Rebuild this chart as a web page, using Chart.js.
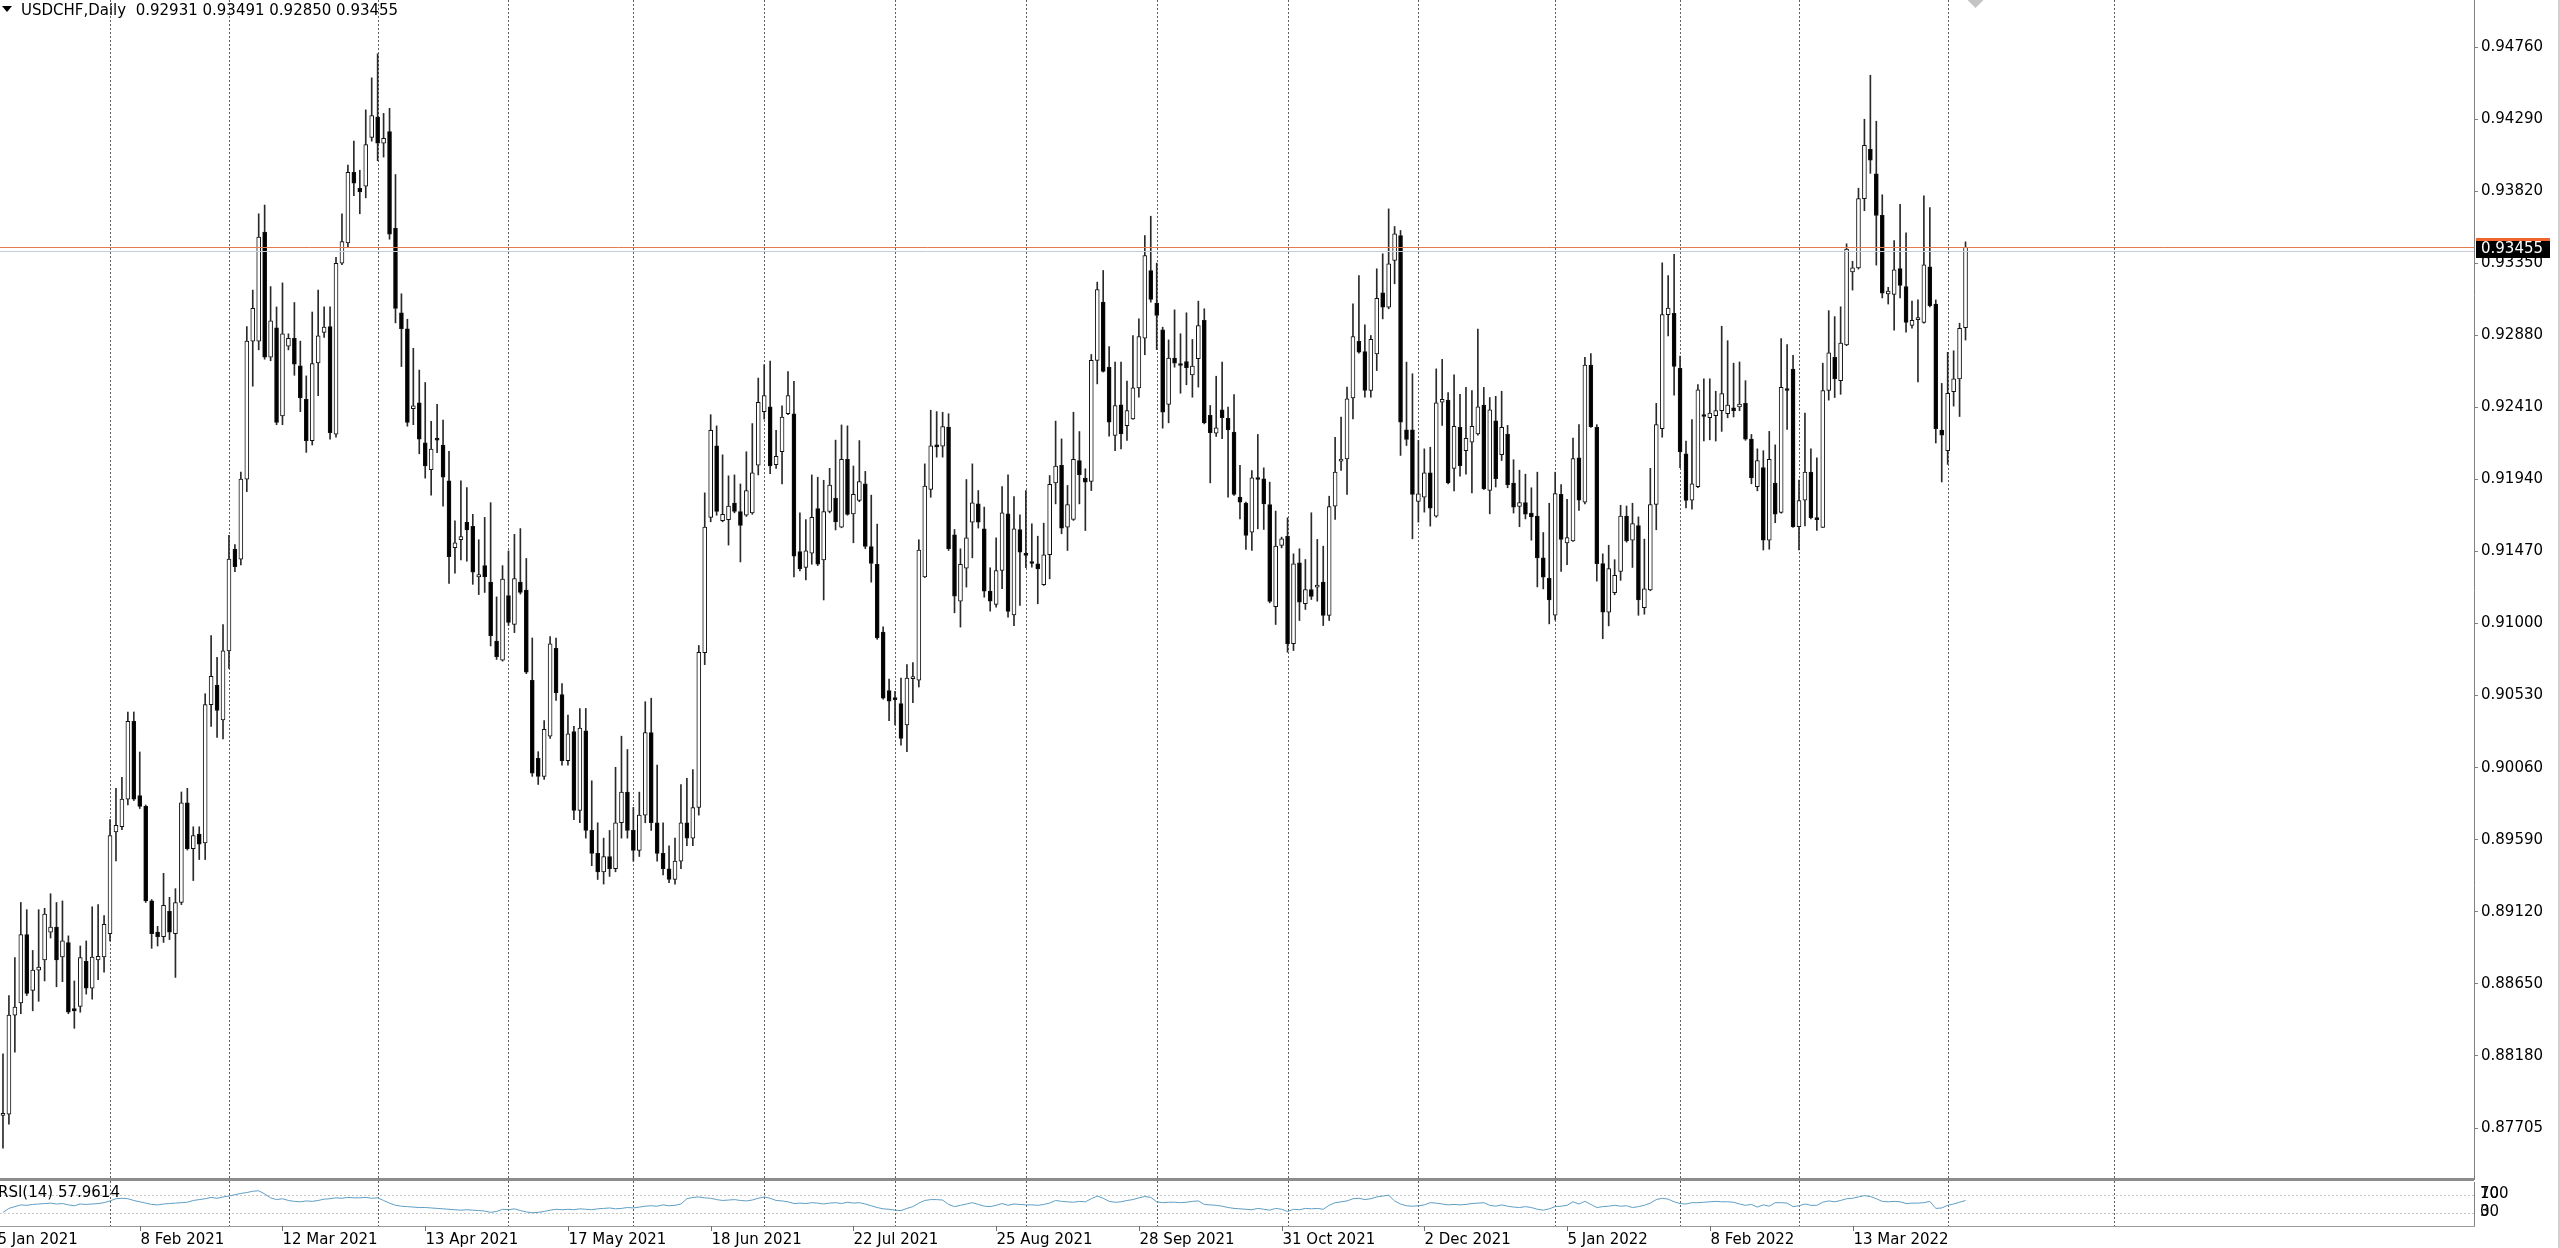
<!DOCTYPE html>
<html>
<head>
<meta charset="utf-8">
<title>USDCHF,Daily</title>
<script src="https://cdn.jsdelivr.net/npm/chart.js@4.4.1/dist/chart.umd.min.js"></script>
<style>
  html, body { margin: 0; padding: 0; background: #fff; overflow: hidden; }
  #wrap { position: relative; width: 2560px; height: 1248px; background: #fff; }
  #main { position: absolute; left: 0; top: 0; }
  #rsi { position: absolute; left: 0; top: 1178px; }
</style>
</head>
<body>
<div id="wrap">
  <canvas id="main" width="2560" height="1180"></canvas>
  <canvas id="rsi" width="2560" height="70"></canvas>
</div>
<script>
// daily USDCHF candles (last bar taken from the header line)
const openP = [
  0.87790,0.87799,0.88445,0.88525,0.88971,0.88606,0.88739,0.88805,0.88986,0.89019,
  0.88824,0.88919,0.88487,0.88502,0.88796,0.88620,0.88805,0.88824,0.88976,0.89640,
  0.89674,0.89854,0.90362,0.89878,0.89807,0.89190,0.88986,0.88957,0.89123,0.88976,
  0.89180,0.89830,0.89531,0.89626,0.89569,0.90471,0.90599,0.90371,0.90822,0.91486,
  0.91420,0.91942,0.92843,0.92843,0.93555,0.92739,0.92929,0.92355,0.92810,0.92862,
  0.92682,0.92464,0.92193,0.92701,0.92900,0.92938,0.92236,0.93351,0.93484,0.93944,
  0.93840,0.93854,0.94172,0.94305,0.94134,0.94210,0.93579,0.93028,0.92924,0.92402,
  0.92440,0.92179,0.92005,0.92200,0.92165,0.91932,0.91495,0.91547,0.91661,0.91635,
  0.91305,0.91378,0.91270,0.90886,0.90761,0.91183,0.90994,0.91270,0.91218,0.90630,
  0.90120,0.90003,0.90265,0.90839,0.90536,0.90105,0.90295,0.89780,0.90300,0.89650,
  0.89500,0.89380,0.89480,0.89400,0.89700,0.89900,0.89650,0.89520,0.89750,0.90289,
  0.89700,0.89500,0.89400,0.89330,0.89450,0.89700,0.89600,0.89800,0.90810,0.91693,
  0.92159,0.91672,0.91678,0.91786,0.91731,0.91707,0.91722,0.92034,0.92383,0.92415,
  0.92037,0.92121,0.92369,0.92369,0.91469,0.91367,0.91460,0.91751,0.91416,0.91731,
  0.91818,0.91629,0.92072,0.91716,0.91803,0.91911,0.91503,0.91387,0.90944,0.90563,
  0.90513,0.90478,0.90338,0.90641,0.90630,0.91305,0.91876,0.92165,0.92158,0.92282,
  0.91579,0.91146,0.91362,0.91662,0.91781,0.91618,0.91212,0.91125,0.91346,0.91716,
  0.91057,0.91614,0.91459,0.91396,0.91390,0.91253,0.91449,0.91918,0.92032,0.91629,
  0.91679,0.92064,0.91949,0.91927,0.92717,0.93097,0.92673,0.92227,0.92427,0.92292,
  0.92336,0.92538,0.92862,0.93304,0.93091,0.92917,0.92430,0.92732,0.92691,0.92710,
  0.92623,0.92728,0.92978,0.92358,0.92243,0.92395,0.92340,0.92249,0.91825,0.91786,
  0.91596,0.91944,0.91944,0.91777,0.91111,0.91510,0.91570,0.90868,0.91396,0.91129,
  0.91222,0.91238,0.91270,0.91053,0.91766,0.92060,0.92075,0.92473,0.92841,0.92775,
  0.92521,0.92760,0.93158,0.93065,0.93369,0.93532,0.92264,0.92264,0.91797,0.91825,
  0.91984,0.91701,0.92445,0.92458,0.92013,0.92280,0.92128,0.92183,0.92237,0.92425,
  0.91869,0.92323,0.92102,0.92234,0.91917,0.91764,0.91790,0.91721,0.91701,0.91429,
  0.91295,0.91054,0.91843,0.91526,0.91539,0.92082,0.91792,0.92686,0.92280,0.91391,
  0.91074,0.91201,0.91340,0.91701,0.91544,0.91640,0.91104,0.91219,0.91777,0.92272,
  0.93016,0.93024,0.92666,0.92107,0.91805,0.91894,0.92356,0.92343,0.92356,0.92389,
  0.92369,0.92407,0.92414,0.92437,0.92204,0.91894,0.92018,0.91544,0.91917,0.91726,
  0.92531,0.92661,0.91632,0.91805,0.91988,0.91683,0.91627,0.92521,0.92737,0.92585,
  0.92818,0.93295,0.93321,0.93773,0.94095,0.93935,0.93664,0.93151,0.93148,0.93316,
  0.93199,0.92945,0.92983,0.92965,0.93328,0.93085,0.92262,0.92128,0.92514,0.92597,
  0.92931
];
const highP = [
  0.88193,0.88573,0.88820,0.89180,0.89133,0.88867,0.89133,0.89142,0.89237,0.89180,
  0.89190,0.88962,0.88668,0.88896,0.88929,0.89152,0.89166,0.89095,0.89721,0.89925,
  0.89996,0.90423,0.90423,0.90162,0.89816,0.89199,0.89024,0.89370,0.89214,0.89270,
  0.89901,0.89925,0.89674,0.89674,0.90542,0.90922,0.90779,0.90993,0.91576,0.91515,
  0.91989,0.92938,0.93176,0.93674,0.93731,0.93199,0.93066,0.93223,0.92891,0.93095,
  0.92843,0.92616,0.93033,0.93176,0.93066,0.93066,0.93389,0.93674,0.93992,0.94148,
  0.93958,0.94352,0.94561,0.94718,0.94329,0.94362,0.93930,0.93152,0.92986,0.92796,
  0.92654,0.92573,0.92319,0.92430,0.92328,0.92124,0.91670,0.91932,0.91888,0.91713,
  0.91547,0.91693,0.91789,0.91174,0.91378,0.91474,0.91582,0.91620,0.91425,0.90906,
  0.90164,0.90367,0.90915,0.90906,0.90609,0.90402,0.90330,0.90446,0.90446,0.89974,
  0.89700,0.89600,0.89650,0.90062,0.90265,0.90178,0.89800,0.89900,0.90490,0.90513,
  0.90076,0.89700,0.89550,0.89600,0.89950,0.89990,0.90047,0.90857,0.91853,0.92363,
  0.92290,0.92101,0.91964,0.91970,0.91911,0.92121,0.92305,0.92602,0.92689,0.92712,
  0.92261,0.92421,0.92645,0.92581,0.91722,0.91678,0.91970,0.91955,0.91935,0.92013,
  0.92197,0.92296,0.92290,0.92028,0.92194,0.91993,0.91838,0.91649,0.90979,0.90638,
  0.90557,0.90644,0.90732,0.90746,0.91547,0.92042,0.92392,0.92383,0.92379,0.92369,
  0.91614,0.91488,0.91940,0.92042,0.91868,0.91760,0.91364,0.91560,0.91894,0.91971,
  0.91829,0.91710,0.91868,0.91651,0.91570,0.91655,0.91966,0.92321,0.92205,0.91901,
  0.92379,0.92253,0.92010,0.92756,0.93228,0.93304,0.92808,0.92706,0.92706,0.92582,
  0.92880,0.92988,0.93532,0.93658,0.93352,0.92934,0.92851,0.93047,0.92891,0.93028,
  0.92854,0.93104,0.93054,0.92423,0.92614,0.92706,0.92412,0.92495,0.92032,0.91792,
  0.91999,0.92234,0.92016,0.91923,0.91734,0.91564,0.91690,0.91455,0.91488,0.91418,
  0.91723,0.91549,0.91505,0.91831,0.92216,0.92347,0.92543,0.93086,0.93271,0.92949,
  0.92880,0.93315,0.93413,0.93706,0.93591,0.93565,0.92706,0.92630,0.92195,0.92140,
  0.92151,0.92662,0.92724,0.92508,0.92623,0.92496,0.92541,0.92521,0.92922,0.92541,
  0.92475,0.92483,0.92516,0.92293,0.92069,0.92001,0.91975,0.91886,0.91988,0.91594,
  0.91785,0.91988,0.91907,0.91810,0.92211,0.92298,0.92737,0.92762,0.92298,0.91455,
  0.91511,0.91417,0.91772,0.91767,0.91785,0.91696,0.91551,0.92013,0.92437,0.93354,
  0.93270,0.93410,0.92745,0.92191,0.92331,0.92559,0.92597,0.92597,0.92516,0.92940,
  0.92846,0.92699,0.92707,0.92585,0.92234,0.92140,0.92128,0.92254,0.92166,0.92859,
  0.92821,0.92750,0.91937,0.92374,0.92140,0.92082,0.92699,0.93042,0.93003,0.93067,
  0.93478,0.93364,0.93841,0.94291,0.94578,0.94278,0.93798,0.93194,0.93499,0.93735,
  0.93549,0.93105,0.93112,0.93791,0.93714,0.93112,0.92567,0.92770,0.92780,0.92960,
  0.93491
];
const lowP = [
  0.87576,0.87733,0.88203,0.88454,0.88573,0.88473,0.88535,0.88668,0.88948,0.88630,
  0.88663,0.88454,0.88359,0.88464,0.88582,0.88549,0.88677,0.88725,0.88929,0.89451,
  0.89655,0.89816,0.89845,0.89793,0.89180,0.88881,0.88896,0.88919,0.88938,0.88691,
  0.89166,0.89522,0.89323,0.89460,0.89460,0.90329,0.90257,0.90248,0.90708,0.91339,
  0.91382,0.91861,0.92549,0.92786,0.92725,0.92715,0.92298,0.92298,0.92786,0.92620,
  0.92383,0.92117,0.92165,0.92487,0.92867,0.92203,0.92217,0.93342,0.93460,0.93792,
  0.93674,0.93778,0.94148,0.94020,0.94044,0.93508,0.92962,0.92677,0.92288,0.92298,
  0.92108,0.91949,0.91838,0.92115,0.91766,0.91262,0.91329,0.91416,0.91407,0.91256,
  0.91189,0.91203,0.90854,0.90766,0.90755,0.90988,0.90941,0.91192,0.90673,0.90003,
  0.89950,0.89983,0.90251,0.90499,0.90076,0.90076,0.89720,0.89700,0.89600,0.89420,
  0.89330,0.89300,0.89350,0.89380,0.89600,0.89600,0.89450,0.89480,0.89700,0.89650,
  0.89450,0.89360,0.89310,0.89300,0.89400,0.89550,0.89550,0.89750,0.90732,0.91664,
  0.91707,0.91664,0.91512,0.91722,0.91402,0.91699,0.91713,0.91970,0.92334,0.91978,
  0.92013,0.91911,0.92363,0.91305,0.91343,0.91285,0.91387,0.91378,0.91154,0.91722,
  0.91611,0.91625,0.91707,0.91527,0.91795,0.91489,0.91270,0.90897,0.90507,0.90367,
  0.90338,0.90207,0.90164,0.90484,0.90586,0.91300,0.91824,0.92086,0.92086,0.91477,
  0.91070,0.90977,0.91238,0.91429,0.91623,0.91172,0.91081,0.91107,0.91227,0.91042,
  0.90987,0.91118,0.91364,0.91368,0.91129,0.91249,0.91292,0.91781,0.91586,0.91477,
  0.91673,0.91781,0.91607,0.91868,0.92564,0.92641,0.92223,0.92129,0.92140,0.92195,
  0.92332,0.92477,0.92754,0.93097,0.92788,0.92275,0.92310,0.92673,0.92503,0.92558,
  0.92477,0.92543,0.92303,0.91918,0.92221,0.92206,0.91825,0.91836,0.91683,0.91483,
  0.91477,0.91618,0.91614,0.91135,0.90994,0.91494,0.90813,0.90824,0.91020,0.91092,
  0.91157,0.91146,0.90987,0.91020,0.91679,0.91999,0.91842,0.92336,0.92764,0.92477,
  0.92477,0.92651,0.92988,0.93054,0.93217,0.92097,0.92162,0.91553,0.91662,0.91727,
  0.91636,0.91694,0.92293,0.91912,0.91866,0.91962,0.91975,0.91853,0.92229,0.91874,
  0.91716,0.91891,0.92064,0.91886,0.91721,0.91632,0.91683,0.91544,0.91239,0.91226,
  0.90998,0.91023,0.91340,0.91384,0.91536,0.91739,0.91780,0.92280,0.91277,0.90901,
  0.90985,0.91188,0.91282,0.91531,0.91366,0.91054,0.91061,0.91214,0.91612,0.92216,
  0.92877,0.92491,0.92018,0.91754,0.91747,0.91886,0.92191,0.92199,0.92191,0.92254,
  0.92343,0.92348,0.92389,0.92196,0.91912,0.91866,0.91480,0.91485,0.91658,0.91721,
  0.92267,0.91627,0.91480,0.91637,0.91683,0.91607,0.91627,0.92458,0.92475,0.92496,
  0.92813,0.93176,0.93313,0.93694,0.93938,0.93339,0.93125,0.93085,0.92915,0.93125,
  0.92902,0.92927,0.92577,0.92960,0.93067,0.92178,0.91924,0.92039,0.92419,0.92351,
  0.92850
];
const closeP = [
  0.87804,0.88445,0.88497,0.88971,0.88587,0.88739,0.88758,0.89104,0.89019,0.88805,
  0.88929,0.88464,0.88473,0.88820,0.88620,0.88824,0.88829,0.89038,0.89617,0.89683,
  0.89854,0.90362,0.89854,0.89807,0.89190,0.88976,0.88957,0.89161,0.88986,0.89180,
  0.89830,0.89531,0.89617,0.89560,0.90471,0.90656,0.90433,0.90822,0.91420,0.91372,
  0.91942,0.92843,0.93057,0.93522,0.92739,0.92976,0.92312,0.92891,0.92862,0.92692,
  0.92473,0.92193,0.92696,0.92877,0.92934,0.92246,0.93351,0.93493,0.93944,0.93873,
  0.93816,0.94125,0.94314,0.94134,0.94167,0.93541,0.93057,0.92924,0.92312,0.92421,
  0.92203,0.92028,0.92139,0.92197,0.91955,0.91436,0.91527,0.91568,0.91611,0.91335,
  0.91320,0.91305,0.90921,0.90784,0.91291,0.91008,0.91294,0.91203,0.90682,0.90024,
  0.90003,0.90309,0.90868,0.90548,0.90105,0.90280,0.89780,0.90318,0.89650,0.89500,
  0.89380,0.89480,0.89400,0.89700,0.89900,0.89650,0.89520,0.89750,0.90289,0.89700,
  0.89500,0.89400,0.89330,0.89450,0.89700,0.89600,0.89800,0.90813,0.91629,0.92261,
  0.91731,0.91713,0.91766,0.91731,0.91640,0.91868,0.91984,0.92444,0.92488,0.92028,
  0.92092,0.92348,0.92488,0.91439,0.91358,0.91474,0.91693,0.91387,0.91731,0.91903,
  0.91664,0.92072,0.91713,0.91844,0.91926,0.91503,0.91393,0.90906,0.90513,0.90493,
  0.90504,0.90251,0.90644,0.90644,0.91480,0.91897,0.92159,0.92153,0.92286,0.91488,
  0.91179,0.91386,0.91560,0.91788,0.91662,0.91212,0.91146,0.91346,0.91723,0.91079,
  0.91618,0.91466,0.91444,0.91392,0.91357,0.91449,0.91908,0.92027,0.91623,0.91777,
  0.92071,0.91971,0.91923,0.92717,0.93180,0.92645,0.92314,0.92423,0.92238,0.92390,
  0.92538,0.92873,0.93402,0.93115,0.93010,0.92379,0.92732,0.92699,0.92684,0.92669,
  0.92680,0.92945,0.92310,0.92245,0.92277,0.92343,0.92264,0.91842,0.91792,0.91575,
  0.91951,0.91940,0.91781,0.91144,0.91505,0.91553,0.90868,0.91390,0.91140,0.91222,
  0.91177,0.91249,0.91053,0.91764,0.91988,0.92071,0.92466,0.92873,0.92771,0.92521,
  0.92854,0.93123,0.93065,0.93347,0.93543,0.92314,0.92201,0.91842,0.91847,0.91984,
  0.91753,0.92440,0.92463,0.91917,0.92287,0.92031,0.92209,0.92287,0.92414,0.91881,
  0.92394,0.91945,0.92280,0.91907,0.91759,0.91790,0.91714,0.91696,0.91429,0.91302,
  0.91155,0.91848,0.91549,0.91561,0.92077,0.91805,0.92686,0.92285,0.91391,0.91074,
  0.91358,0.91315,0.91701,0.91539,0.91653,0.91155,0.91226,0.91777,0.92298,0.93016,
  0.93059,0.92678,0.92120,0.91803,0.91912,0.92526,0.92351,0.92374,0.92389,0.92501,
  0.92425,0.92389,0.92432,0.92204,0.91950,0.92064,0.91544,0.92072,0.91714,0.92541,
  0.92521,0.91632,0.91803,0.91988,0.91691,0.91678,0.92521,0.92767,0.92597,0.92831,
  0.93443,0.93321,0.93773,0.94121,0.94024,0.93664,0.93156,0.93169,0.93308,0.93207,
  0.92965,0.92978,0.92996,0.93341,0.93075,0.92272,0.92229,0.92503,0.92597,0.92927,
  0.93455
];
// RSI(14) line in the lower window
const rsiValues = [
  31,40,44,48,47,49,50,51,52,50, 51,48,46,50,49,50,51,53,57,62,
  63,62,58,55,52,49,48,50,51,52, 53,54,58,60,62,65,63,66,68,71,
  74,76,79,80,73,64,60,62,58,56, 55,57,56,58,61,62,64,63,65,64,
  64,65,63,64,58,52,47,45,44,43, 42,42,41,40,39,38,37,36,37,36,
  35,34,31,33,38,37,39,35,32,30, 31,33,36,38,37,38,37,39,38,37,
  39,40,41,39,40,42,41,43,45,46, 45,48,46,47,50,62,65,66,64,63,
  60,58,59,60,58,57,59,63,66,63, 58,57,55,51,52,51,53,52,50,52,
  53,51,54,52,53,50,46,42,39,38, 36,35,40,44,52,58,60,60,59,49,
  44,47,50,53,49,45,44,47,51,47, 50,49,48,48,47,49,52,58,56,55,
  54,56,55,62,68,63,56,54,55,58, 60,64,67,65,55,53,54,54,53,54,
  56,57,49,48,47,45,42,40,39,38, 37,40,38,36,40,38,33,38,37,40,
  39,40,38,47,53,55,57,62,63,60, 62,66,68,70,57,50,46,45,46,48,
  53,52,50,48,49,48,49,51,52,53, 47,45,48,45,43,42,44,42,38,36,
  39,44,45,47,55,50,56,49,42,44, 45,47,45,46,42,44,47,52,60,63,
  61,55,51,50,53,53,54,55,56,55, 55,54,50,47,49,43,48,45,53,53,
  52,44,46,50,47,47,54,57,55,58, 62,63,66,69,67,62,56,55,56,55,
  51,52,52,53,56,40,41,47,50,54, 57.9614
];
const priceTicks = [0.94760, 0.94290, 0.93820, 0.93350, 0.92880, 0.92410, 0.91940, 0.91470,
                    0.91000, 0.90530, 0.90060, 0.89590, 0.89120, 0.88650, 0.88180, 0.87705];
const dateLabels = ['5 Jan 2021', '8 Feb 2021', '12 Mar 2021', '13 Apr 2021', '17 May 2021', '18 Jun 2021',
                    '22 Jul 2021', '25 Aug 2021', '28 Sep 2021', '31 Oct 2021', '2 Dec 2021', '5 Jan 2022',
                    '8 Feb 2022', '13 Mar 2022'];
const dateLabelBars = [-1, 23, 47, 71, 95, 119, 143, 167, 191, 215, 239, 263, 287, 311];
const monthStartBars = [18, 38, 63, 85, 106, 128, 150, 172, 194, 216, 238, 261, 282, 302, 327, 355];
const bidPrice = 0.93455;
const lowerLinePrice = 0.93429;
const rsiLevels = [70, 30];

const SLOTS = 416;              // bars plus the empty shift on the right
const PRICE_MAX = 0.95069;
const PRICE_MIN = 0.87369;
const AXIS_W = 86;
const FONT = '15px "DejaVu Sans", Verdana, sans-serif';

const slotLabels = Array.from({ length: SLOTS }, (_, i) => String(i));
const lastBar = closeP.length - 1;

const fmt = v => v.toFixed(5);

const mainDecor = {
  id: 'mainDecor',
  beforeDatasetsDraw(chart) {
    const { ctx, chartArea: a, scales: { x } } = chart;
    ctx.save();
    ctx.strokeStyle = '#5e5e5e';
    ctx.lineWidth = 1;
    ctx.setLineDash([2, 2]);
    monthStartBars.forEach(i => {
      const px = Math.round(x.getPixelForValue(i)) + 0.5;
      ctx.beginPath();
      ctx.moveTo(px, a.top);
      ctx.lineTo(px, a.bottom);
      ctx.stroke();
    });
    ctx.restore();
  },
  afterDatasetsDraw(chart) {
    const { ctx, chartArea: a, scales: { y } } = chart;
    ctx.save();
    // grey line just under the bid line
    let py = Math.round(y.getPixelForValue(lowerLinePrice)) + 0.5;
    ctx.strokeStyle = '#c3ccd8';
    ctx.lineWidth = 1;
    ctx.beginPath(); ctx.moveTo(a.left, py); ctx.lineTo(a.right, py); ctx.stroke();
    // bid line
    py = Math.round(y.getPixelForValue(bidPrice)) + 0.5;
    ctx.strokeStyle = '#e57a4e';
    ctx.beginPath(); ctx.moveTo(a.left, py); ctx.lineTo(a.right, py); ctx.stroke();
    ctx.restore();
  },
  afterDraw(chart) {
    const { ctx, chartArea: a, scales: { x, y } } = chart;
    ctx.save();
    // header
    ctx.fillStyle = '#000';
    ctx.beginPath();
    ctx.moveTo(2, 6); ctx.lineTo(12, 6); ctx.lineTo(7, 12); ctx.closePath();
    ctx.fill();
    ctx.font = FONT;
    ctx.textBaseline = 'middle';
    ctx.textAlign = 'left';
    const n = lastBar;
    ctx.fillText('USDCHF,Daily  ' + [openP[n], highP[n], lowP[n], closeP[n]].map(fmt).join(' '), 21, 11);

    // chart shift marker
    const mx = x.getPixelForValue(lastBar) + 10;
    ctx.fillStyle = '#c4c4c4';
    ctx.beginPath();
    ctx.moveTo(mx - 8, 0); ctx.lineTo(mx + 8, 0); ctx.lineTo(mx, 8); ctx.closePath();
    ctx.fill();

    // current price box on the axis
    const py = Math.round(y.getPixelForValue(bidPrice));
    const bx = a.right + 2;
    ctx.fillStyle = '#000';
    ctx.fillRect(bx, py - 8, 74, 19);
    ctx.fillStyle = '#f0642d';
    ctx.fillRect(bx, py - 9, 74, 3);
    ctx.fillStyle = '#fff';
    ctx.fillText(fmt(bidPrice), a.right + 7, py + 2);

    // window edge
    ctx.fillStyle = '#d0d0d0';
    ctx.fillRect(2558, 0, 2, chart.height);
    ctx.restore();
  }
};

const rsiDecor = {
  id: 'rsiDecor',
  beforeDatasetsDraw(chart) {
    const { ctx, chartArea: a, scales: { x, y } } = chart;
    ctx.save();
    // separator between windows
    ctx.fillStyle = '#8c8c8c';
    ctx.fillRect(0, 0, a.right, 3);
    // level lines
    ctx.strokeStyle = '#c6c6c6';
    ctx.lineWidth = 1;
    ctx.setLineDash([2, 2]);
    rsiLevels.forEach(v => {
      const py = Math.round(y.getPixelForValue(v)) + 0.5;
      ctx.beginPath(); ctx.moveTo(a.left, py); ctx.lineTo(a.right, py); ctx.stroke();
    });
    // month separators
    ctx.strokeStyle = '#5e5e5e';
    monthStartBars.forEach(i => {
      const px = Math.round(x.getPixelForValue(i)) + 0.5;
      ctx.beginPath(); ctx.moveTo(px, 3); ctx.lineTo(px, a.bottom); ctx.stroke();
    });
    ctx.restore();
  },
  afterDraw(chart) {
    const { ctx, chartArea: a, scales: { x, y } } = chart;
    ctx.save();
    // bottom frame
    ctx.fillStyle = '#9a9a9a';
    ctx.fillRect(0, Math.round(a.bottom), a.right + 1, 1);

    ctx.font = FONT;
    ctx.fillStyle = '#000';
    ctx.textBaseline = 'middle';
    ctx.textAlign = 'left';
    ctx.fillText('RSI(14) ' + rsiValues[rsiValues.length - 1].toFixed(4), -2, 15);

    // level labels on the right (100/70 and 30/0 print on top of each other)
    const lx = a.right + 6;
    ctx.fillText('100', lx, y.getPixelForValue(70) - 1);
    ctx.fillText('70', lx, y.getPixelForValue(70) - 1);
    ctx.fillText('30', lx, y.getPixelForValue(30) - 1);
    ctx.fillText('0', lx, y.getPixelForValue(30) - 1);

    // time axis
    ctx.strokeStyle = '#707070';
    ctx.lineWidth = 1;
    dateLabels.forEach((t, k) => {
      const px = Math.round(x.getPixelForValue(dateLabelBars[k])) + 0.5;
      ctx.beginPath(); ctx.moveTo(px, a.bottom); ctx.lineTo(px, a.bottom + 5); ctx.stroke();
      ctx.fillText(t, px, 62);
    });

    ctx.fillStyle = '#d0d0d0';
    ctx.fillRect(2558, 0, 2, chart.height);
    ctx.restore();
  }
};

const bodyColors = openP.map((o, i) => (closeP[i] >= o ? '#ffffff' : '#000000'));

new Chart(document.getElementById('main'), {
  type: 'bar',
  data: {
    labels: slotLabels,
    datasets: [
      {
        label: 'wick',
        data: lowP.map((l, i) => [l, highP[i]]),
        backgroundColor: '#2a2a2a',
        barThickness: 1,
        grouped: false,
        order: 2
      },
      {
        label: 'body',
        data: openP.map((o, i) => [Math.min(o, closeP[i]), Math.max(o, closeP[i])]),
        backgroundColor: bodyColors,
        borderColor: '#111',
        borderWidth: 1,
        borderSkipped: false,
        barThickness: 4,
        minBarLength: 2,
        grouped: false,
        order: 1
      }
    ]
  },
  options: {
    responsive: false,
    animation: false,
    devicePixelRatio: 1,
    layout: { padding: 0 },
    plugins: { legend: { display: false }, tooltip: { enabled: false } },
    scales: {
      x: { type: 'category', display: false, offset: true },
      y: {
        position: 'right',
        min: PRICE_MIN,
        max: PRICE_MAX,
        afterFit: s => { s.width = AXIS_W; s.paddingTop = 0; s.paddingBottom = 0; },
        afterBuildTicks: s => { s.ticks = priceTicks.map(v => ({ value: v })); },
        ticks: {
          callback: v => fmt(v),
          color: '#000',
          padding: 3,
          font: { family: '"DejaVu Sans", Verdana, sans-serif', size: 15 }
        },
        grid: { display: true, drawOnChartArea: false, drawTicks: true, tickLength: 4, color: '#808080' },
        border: { display: true, color: '#808080', width: 1 }
      }
    }
  },
  plugins: [mainDecor]
});

new Chart(document.getElementById('rsi'), {
  type: 'line',
  data: {
    labels: slotLabels,
    datasets: [{
      label: 'RSI(14)',
      data: rsiValues,
      borderColor: '#5f9ec4',
      borderWidth: 1,
      pointRadius: 0,
      tension: 0,
      fill: false
    }]
  },
  options: {
    responsive: false,
    animation: false,
    devicePixelRatio: 1,
    layout: { padding: { top: 4, bottom: 22, left: 0, right: 0 } },
    plugins: { legend: { display: false }, tooltip: { enabled: false } },
    scales: {
      x: { type: 'category', display: false, offset: true },
      y: {
        position: 'right',
        min: 0,
        max: 100,
        afterFit: s => { s.width = AXIS_W; s.paddingTop = 0; s.paddingBottom = 0; },
        ticks: { display: false },
        grid: { display: false },
        border: { display: true, color: '#808080', width: 1 }
      }
    }
  },
  plugins: [rsiDecor]
});
</script>
</body>
</html>
